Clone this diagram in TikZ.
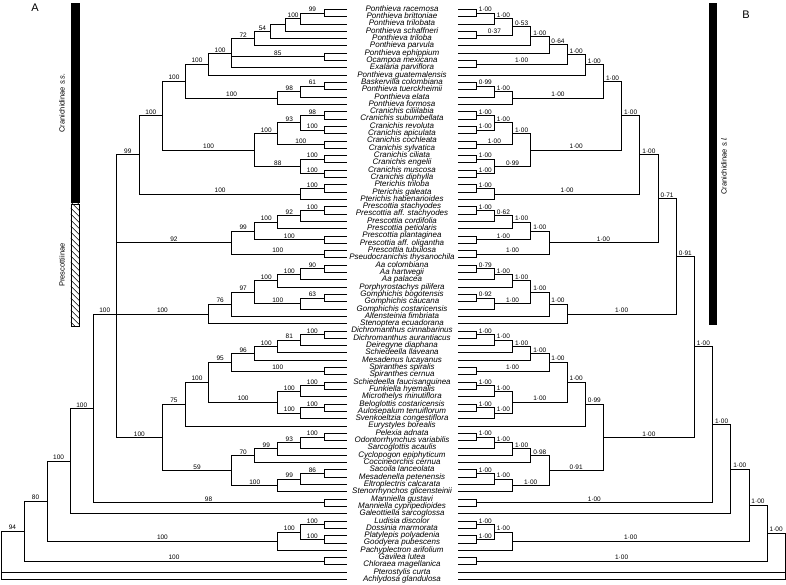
\documentclass[tikz,border=0pt]{standalone}
\usepackage{fontspec}
\setmainfont{Liberation Sans}
\usetikzlibrary{calc,positioning}

\tikzset{
  br/.style={line width=0.75pt},
  bs/.style={pos=.75, above, inner sep=0.8pt, font=\fontsize{6.5}{7}\selectfont},
  taxon/.style={font=\fontsize{8}{8}\selectfont\itshape, inner sep=0pt,
                text height=5.6pt, text depth=1.6pt},
  bar/.style={inner sep=0pt, minimum width=8.6pt, anchor=north west},
  grp/.style={rotate=90, font=\fontsize{7.5}{8}\selectfont, inner sep=0pt},
  panel/.style={font=\fontsize{11}{11}\selectfont, inner sep=0pt},
}
% clade node at depth level #2, halfway between #3 and #4
\newcommand\lclade[4]{\path let \p1=($(#3)!.5!(#4)$) in coordinate (#1) at ({(347-23.07*#2)*1pt},\y1);}
\newcommand\rclade[4]{\path let \p1=($(#3)!.5!(#4)$) in coordinate (#1) at ({(458+18.18*#2)*1pt},\y1);}

\begin{document}
\begin{tikzpicture}[x=1pt,y=-1pt]
  \useasboundingbox (0,0) rectangle (786,585);

  % Taxa (shared by both trees)
  \foreach \n [count=\i] in {
    Ponthieva racemosa, Ponthieva brittoniae, Ponthieva trilobata, Ponthieva schaffneri,
    Ponthieva triloba, Ponthieva parvula, Ponthieva ephippium, Ocampoa mexicana,
    Exalaria parviflora, Ponthieva guatemalensis, Baskervilla colombiana,
    Ponthieva tuerckheimii, Ponthieva elata, Ponthieva formosa, Cranichis ciliilabia,
    Cranichis subumbellata, Cranichis revoluta, Cranichis apiculata, Cranichis cochleata,
    Cranichis sylvatica, Cranichis ciliata, Cranichis engelii, Cranichis muscosa,
    Cranichis diphylla, Pterichis triloba, Pterichis galeata, Pterichis habenarioides,
    Prescottia stachyodes, Prescottia aff. stachyodes, Prescottia cordifolia,
    Prescottia petiolaris, Prescottia plantaginea, Prescottia aff. oligantha,
    Prescottia tubulosa, Pseudocranichis thysanochila, Aa colombiana, Aa hartwegii,
    Aa palacea, Porphyrostachys pilifera, Gomphichis bogotensis, Gomphichis caucana,
    Gomphichis costaricensis, Altensteinia fimbriata, Stenoptera ecuadorana,
    Dichromanthus cinnabarinus, Dichromanthus aurantiacus, Deiregyne diaphana,
    Schiedeella llaveana, Mesadenus lucayanus, Spiranthes spiralis, Spiranthes cernua,
    Schiedeella faucisanguinea, Funkiella hyemalis, Microthelys minutiflora,
    Beloglottis costaricensis, Aulosepalum tenuiflorum, Svenkoeltzia congestiflora,
    Eurystyles borealis, Pelexia adnata, Odontorrhynchus variabilis, Sarcoglottis acaulis,
    Cyclopogon epiphyticum, Coccineorchis cernua, Sacoila lanceolata,
    Mesadenella petenensis, Eltroplectris calcarata, Stenorrhynchos glicensteinii,
    Manniella gustavi, Manniella cypripedioides, Galeottiella sarcoglossa,
    Ludisia discolor, Dossinia marmorata, Platylepis polyadenia, Goodyera pubescens,
    Pachyplectron arifolium, Gavilea lutea, Chloraea magellanica, Pterostylis curta,
    Achlydosa glandulosa} {
    \coordinate (L\i) at (347,{9.3+7.31*(\i-1)});
    \coordinate (R\i) at (458,{9.3+7.31*(\i-1)});
    \node[taxon] (t\i) at (402,{9.3+7.31*(\i-1)}) {\n};
  }

  % Tree A (bootstrap)
  \foreach \a/\b in {1/2,7/8,11/12,15/16,17/18,19/20,21/22,23/24,25/26,28/29,32/33,34/35,
      36/37,40/41,45/46,50/51,52/53,55/56,59/60,64/65,68/69,71/72,73/74,76/77} {
    \lclade{l\a x\b}{1}{L\a}{L\b}
    \draw[br] (L\a) -| (l\a x\b) |- (L\b);
  }
  \lclade{l1x3}{2}{l1x2}{L3}       \lclade{l1x4}{2.667}{l1x3}{L4}
  \lclade{l1x5}{3.333}{l1x4}{L5}   \lclade{l1x6}{4}{l1x5}{L6}
  \lclade{l1x9}{5}{l1x6}{L9}       \lclade{l1x10}{6}{l1x9}{L10}
  \lclade{l11x13}{2}{l11x12}{L13}  \lclade{l11x14}{3}{l11x13}{L14}
  \lclade{l1x14}{7}{l1x10}{l11x14}
  \lclade{l15x18}{2}{l15x16}{l17x18} \lclade{l15x20}{3}{l15x18}{l19x20}
  \lclade{l21x24}{2}{l21x22}{l23x24} \lclade{l15x24}{4}{l15x20}{l21x24}
  \lclade{l1x24}{8}{l1x14}{l15x24}
  \lclade{l25x27}{2}{l25x26}{L27}  \lclade{l1x27}{9}{l1x24}{l25x27}
  \lclade{l28x30}{2}{l28x29}{L30}  \lclade{l28x31}{3}{l28x30}{L31}
  \lclade{l28x33}{4}{l28x31}{l32x33} \lclade{l28x35}{5}{l28x33}{l34x35}
  \lclade{l36x38}{2}{l36x37}{L38}  \lclade{l36x39}{3}{l36x38}{L39}
  \lclade{l40x42}{2}{l40x41}{L42}  \lclade{l36x42}{4}{l36x39}{l40x42}
  \lclade{l36x43}{5}{l36x42}{L43}  \lclade{l36x44}{6}{l36x43}{L44}
  \lclade{l45x47}{2}{l45x46}{L47}  \lclade{l45x48}{3}{l45x47}{L48}
  \lclade{l45x49}{4}{l45x48}{L49}  \lclade{l45x51}{5}{l45x49}{l50x51}
  \lclade{l52x54}{2}{l52x53}{L54}  \lclade{l55x57}{2}{l55x56}{L57}
  \lclade{l52x57}{3}{l52x54}{l55x57} \lclade{l45x57}{6}{l45x51}{l52x57}
  \lclade{l45x58}{7}{l45x57}{L58}
  \lclade{l59x61}{2}{l59x60}{L61}  \lclade{l59x62}{3}{l59x61}{L62}
  \lclade{l59x63}{4}{l59x62}{L63}  \lclade{l64x66}{2}{l64x65}{L66}
  \lclade{l64x67}{3}{l64x66}{L67}  \lclade{l59x67}{5}{l59x63}{l64x67}
  \lclade{l45x67}{8}{l45x58}{l59x67}
  \lclade{l1x67}{10}{l36x44}{l36x44}
  \lclade{l1x69}{11}{l1x67}{l68x69} \lclade{l1x70}{12}{l1x69}{L70}
  \lclade{l71x74}{2}{l71x72}{l73x74} \lclade{l71x75}{3}{l71x74}{L75}
  \lclade{l1x75}{13}{l1x70}{l71x75} \lclade{l1x77}{14}{l1x75}{l76x77}
  \lclade{l1x79}{15}{l1x77}{L79}

  \foreach \pa/\ch in {l1x3/L3,l1x4/L4,l1x5/l1x4,l1x5/L5,l1x6/L6,l1x9/L9,l1x10/L10,
      l11x13/L13,l11x14/L14,l25x27/L27,l28x30/L30,l28x31/L31,l36x38/L38,l36x39/L39,
      l40x42/L42,l36x43/L43,l36x44/L44,l45x47/L47,l45x48/L48,l45x49/L49,l52x54/L54,
      l55x57/L57,l45x58/L58,l59x61/L61,l59x62/L62,l59x63/L63,l64x66/L66,l64x67/L67,
      l1x70/L70,l71x75/L75,l1x79/L78,l1x79/L79}
    \draw[br] (\pa) |- (\ch);
  \foreach \pa/\ch/\lb in {l1x3/l1x2/99,l1x4/l1x3/100,l1x6/l1x5/54,l1x9/l1x6/72,
      l1x9/l7x8/85,l1x10/l1x9/100,l1x14/l1x10/100,l11x13/l11x12/61,l11x14/l11x13/98,
      l1x14/l11x14/100,l1x24/l1x14/100,l15x18/l15x16/98,l15x18/l17x18/100,
      l15x20/l15x18/93,l15x20/l19x20/100,l15x24/l15x20/100,l21x24/l21x22/100,
      l21x24/l23x24/100,l15x24/l21x24/88,l1x24/l15x24/100,l1x27/l1x24/100,
      l25x27/l25x26/100,l1x27/l25x27/100,l1x67/l1x27/99,
      l28x30/l28x29/100,l28x31/l28x30/92,l28x33/l28x31/100,l28x33/l32x33/100,
      l28x35/l28x33/99,l28x35/l34x35/100,l1x67/l28x35/92,
      l36x38/l36x37/90,l36x39/l36x38/100,l36x42/l36x39/100,l40x42/l40x41/63,
      l36x42/l40x42/100,l36x43/l36x42/97,l36x44/l36x43/76,l1x67/l36x44/100,
      l45x47/l45x46/100,l45x48/l45x47/81,l45x49/l45x48/100,l45x51/l45x49/96,
      l45x51/l50x51/100,l45x57/l45x51/95,l52x54/l52x53/100,l52x57/l52x54/100,
      l55x57/l55x56/100,l52x57/l55x57/100,l45x57/l52x57/100,l45x58/l45x57/100,
      l45x67/l45x58/75,l59x61/l59x60/100,l59x62/l59x61/93,l59x63/l59x62/99,
      l59x67/l59x63/70,l64x66/l64x65/86,l64x67/l64x66/99,l59x67/l64x67/100,
      l45x67/l59x67/59,l1x67/l45x67/100,l1x69/l1x67/100,l1x69/l68x69/98,
      l1x70/l1x69/100,l71x74/l71x72/100,l71x74/l73x74/100,l71x75/l71x74/100,
      l1x75/l1x70/100,l1x75/l71x75/100,l1x77/l1x75/80,l1x77/l76x77/100,l1x79/l1x77/94}
    \draw[br] (\pa) |- node[bs] {\lb} (\ch);

  % Tree B (posterior probabilities)
  \foreach \a/\b in {1/2,4/5,8/9,11/12,15/16,17/18,19/20,21/22,23/24,25/26,28/29,32/33,
      34/35,36/37,40/41,45/46,50/51,52/53,55/56,59/60,64/65,68/69,71/72,73/74,76/77} {
    \rclade{r\a x\b}{1}{R\a}{R\b}
    \draw[br] (R\a) -| (r\a x\b) |- (R\b);
  }
  \rclade{r1x3}{2}{r1x2}{R3}       \rclade{r1x5}{3}{r1x3}{r4x5}
  \rclade{r1x6}{4}{r1x5}{R6}       \rclade{r1x7}{5}{r1x6}{R7}
  \rclade{r1x9}{6}{r1x7}{r8x9}     \rclade{r1x10}{7}{r1x9}{R10}
  \rclade{r11x13}{2}{r11x12}{R13}  \rclade{r11x14}{3}{r11x13}{R14}
  \rclade{r1x14}{8}{r1x10}{r11x14}
  \rclade{r15x18}{2}{r15x16}{r17x18} \rclade{r15x20}{3}{r15x18}{r19x20}
  \rclade{r21x24}{2}{r21x22}{r23x24} \rclade{r15x24}{4}{r15x20}{r21x24}
  \rclade{r1x24}{9}{r1x14}{r15x24}
  \rclade{r25x27}{2}{r25x26}{R27}  \rclade{r1x27}{10}{r1x24}{r25x27}
  \rclade{r28x30}{2}{r28x29}{R30}  \rclade{r28x31}{3}{r28x30}{R31}
  \rclade{r28x33}{4}{r28x31}{r32x33} \rclade{r28x35}{5}{r28x33}{r34x35}
  \rclade{r1x35}{11}{r1x27}{r28x35}
  \rclade{r36x38}{2}{r36x37}{R38}  \rclade{r36x39}{3}{r36x38}{R39}
  \rclade{r40x42}{2}{r40x41}{R42}  \rclade{r36x42}{4}{r36x39}{r40x42}
  \rclade{r36x43}{5}{r36x42}{R43}  \rclade{r36x44}{6}{r36x43}{R44}
  \rclade{r1x44}{12}{r1x35}{r36x44}
  \rclade{r45x47}{2}{r45x46}{R47}  \rclade{r45x48}{3}{r45x47}{R48}
  \rclade{r45x49}{4}{r45x48}{R49}  \rclade{r45x51}{5}{r45x49}{r50x51}
  \rclade{r52x54}{2}{r52x53}{R54}  \rclade{r55x57}{2}{r55x56}{R57}
  \rclade{r52x57}{3}{r52x54}{r55x57} \rclade{r45x57}{6}{r45x51}{r52x57}
  \rclade{r45x58}{7}{r45x57}{R58}
  \rclade{r59x61}{2}{r59x60}{R61}  \rclade{r59x62}{3}{r59x61}{R62}
  \rclade{r59x63}{4}{r59x62}{R63}  \rclade{r64x66}{2}{r64x65}{R66}
  \rclade{r64x67}{3}{r64x66}{R67}  \rclade{r59x67}{5}{r59x63}{r64x67}
  \rclade{r45x67}{8}{r45x58}{r59x67}
  \rclade{r1x67}{13}{r1x44}{r45x67}
  \rclade{r1x69}{14}{r1x67}{r68x69} \rclade{r1x70}{15}{r1x69}{R70}
  \rclade{r71x74}{2}{r71x72}{r73x74} \rclade{r71x75}{3}{r71x74}{R75}
  \rclade{r1x75}{16}{r1x70}{r71x75} \rclade{r1x77}{17}{r1x75}{r76x77}
  \rclade{r1x79}{18}{r1x77}{R79}

  \foreach \pa/\ch in {r1x3/R3,r1x6/R6,r1x7/R7,r1x10/R10,r11x13/R13,r11x14/R14,
      r25x27/R27,r28x30/R30,r28x31/R31,r36x38/R38,r36x39/R39,r40x42/R42,r36x43/R43,
      r36x44/R44,r45x47/R47,r45x48/R48,r45x49/R49,r52x54/R54,r55x57/R57,r45x58/R58,
      r59x61/R61,r59x62/R62,r59x63/R63,r64x66/R66,r64x67/R67,r1x70/R70,r71x75/R75,
      r1x79/R78,r1x79/R79}
    \draw[br] (\pa) |- (\ch);
  \foreach \pa/\ch/\lb in {r1x3/r1x2/1·00,r1x5/r1x3/1·00,r1x5/r4x5/0·37,r1x6/r1x5/0·53,
      r1x7/r1x6/1·00,r1x9/r1x7/0·64,r1x9/r8x9/1·00,r1x10/r1x9/1·00,r1x14/r1x10/1·00,
      r11x13/r11x12/0·99,r11x14/r11x13/1·00,r1x14/r11x14/1·00,r1x24/r1x14/1·00,
      r15x18/r15x16/1·00,r15x18/r17x18/1·00,r15x20/r15x18/1·00,r15x20/r19x20/1·00,
      r15x24/r15x20/1·00,r21x24/r21x22/1·00,r21x24/r23x24/1·00,r15x24/r21x24/0·99,
      r1x24/r15x24/1·00,r1x27/r1x24/1·00,r25x27/r25x26/1·00,r1x27/r25x27/1·00,
      r1x35/r1x27/1·00,r28x30/r28x29/1·00,r28x31/r28x30/0·62,r28x33/r28x31/1·00,
      r28x33/r32x33/1·00,r28x35/r28x33/1·00,r28x35/r34x35/1·00,r1x35/r28x35/1·00,
      r1x44/r1x35/0·71,r36x38/r36x37/0·79,r36x39/r36x38/1·00,r36x42/r36x39/1·00,
      r40x42/r40x41/0·92,r36x42/r40x42/1·00,r36x43/r36x42/1·00,r36x44/r36x43/1·00,
      r1x44/r36x44/1·00,r1x67/r1x44/0·91,r45x47/r45x46/1·00,r45x48/r45x47/1·00,
      r45x49/r45x48/1·00,r45x51/r45x49/1·00,r45x51/r50x51/1·00,r45x57/r45x51/1·00,
      r52x54/r52x53/1·00,r52x57/r52x54/1·00,r55x57/r55x56/1·00,r52x57/r55x57/1·00,
      r45x57/r52x57/1·00,r45x58/r45x57/1·00,r45x67/r45x58/0·99,r59x61/r59x60/1·00,
      r59x62/r59x61/1·00,r59x63/r59x62/1·00,r59x67/r59x63/0·98,r64x66/r64x65/1·00,
      r64x67/r64x66/1·00,r59x67/r64x67/1·00,r45x67/r59x67/0·91,r1x67/r45x67/1·00,
      r1x69/r1x67/1·00,r1x69/r68x69/1·00,r1x70/r1x69/1·00,r71x74/r71x72/1·00,
      r71x74/r73x74/1·00,r71x75/r71x74/1·00,r1x75/r1x70/1·00,r1x75/r71x75/1·00,
      r1x77/r1x75/1·00,r1x77/r76x77/1·00,r1x79/r1x77/1·00}
    \draw[br] (\pa) |- node[bs] {\lb} (\ch);

  % Group bars
  \node[bar, fill=black, minimum height=200pt] (ssbar) at (70.7,3.3) {};
  \node[bar, draw, line width=0.5pt, minimum height=122pt, anchor=north,
        below=0pt of ssbar] (prbar) {};
  \begin{scope}
    \clip (prbar.south west) rectangle (prbar.north east);
    \foreach \h in {196,202,...,328}
      \draw[line width=0.5pt] (70.7,\h) -- ++(9,9);
  \end{scope}
  \node[bar, fill=black, minimum height=321.7pt] (slbar) at (708.3,3.3) {};
  \node[grp] (sslab) at (62,103) {Cranichidinae \textit{s.s.}};
  \node[grp] (prlab) at (62,265) {Prescottiinae};
  \node[grp] (sllab) at (724,166) {Cranichidinae \textit{s.l.}};
  \node[panel] (pa) at (35,8) {A};
  \node[panel] (pb) at (746,15) {B};
\end{tikzpicture}
\end{document}
